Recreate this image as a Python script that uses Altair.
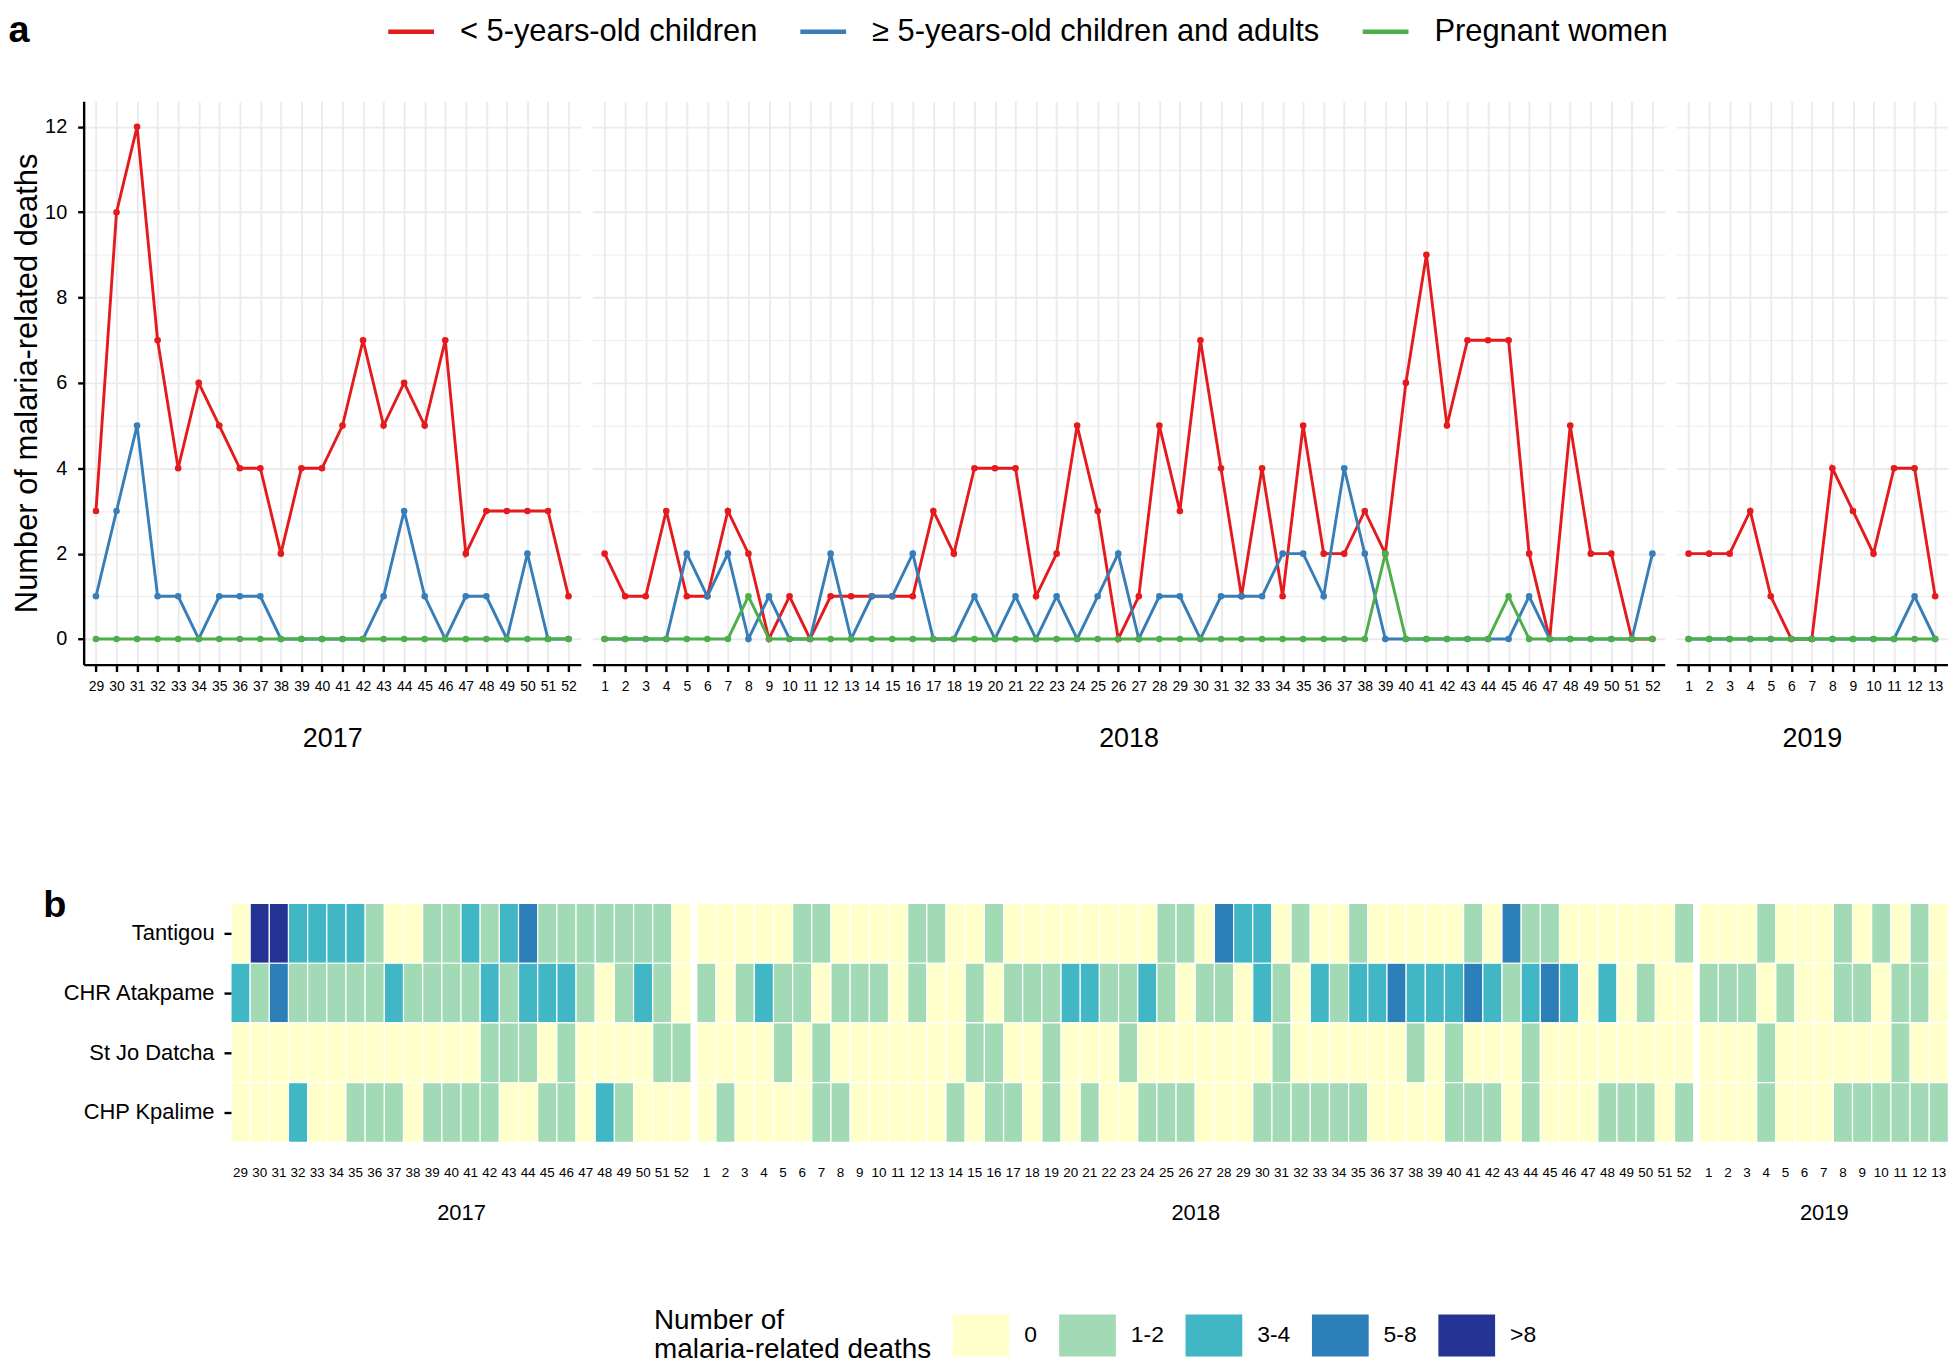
import altair as alt
import pandas as pd

FONT = "Liberation Sans"

# ---------------- data: panel a (weekly deaths by group) ----------------
groups = ["< 5-years-old children", "≥ 5-years-old children and adults", "Pregnant women"]
group_colors = ["#E41A1C", "#377EB8", "#4DAF4A"]

weeks_2017 = [29, 30, 31, 32, 33, 34, 35, 36, 37, 38, 39, 40, 41, 42, 43, 44, 45, 46, 47, 48, 49, 50, 51, 52]
weeks_2018 = [1, 2, 3, 4, 5, 6, 7, 8, 9, 10, 11, 12, 13, 14, 15, 16, 17, 18, 19, 20, 21, 22, 23, 24, 25, 26,
              27, 28, 29, 30, 31, 32, 33, 34, 35, 36, 37, 38, 39, 40, 41, 42, 43, 44, 45, 46, 47, 48, 49, 50, 51, 52]
weeks_2019 = [1, 2, 3, 4, 5, 6, 7, 8, 9, 10, 11, 12, 13]

under5_2017 = [3, 10, 12, 7, 4, 6, 5, 4, 4, 2, 4, 4, 5, 7, 5, 6, 5, 7, 2, 3, 3, 3, 3, 1]
over5_2017 = [1, 3, 5, 1, 1, 0, 1, 1, 1, 0, 0, 0, 0, 0, 1, 3, 1, 0, 1, 1, 0, 2, 0, 0]
pregnant_2017 = [0, 0, 0, 0, 0, 0, 0, 0, 0, 0, 0, 0, 0, 0, 0, 0, 0, 0, 0, 0, 0, 0, 0, 0]

under5_2018 = [2, 1, 1, 3, 1, 1, 3, 2, 0, 1, 0, 1, 1, 1, 1, 1, 3, 2, 4, 4, 4, 1, 2, 5, 3, 0,
               1, 5, 3, 7, 4, 1, 4, 1, 5, 2, 2, 3, 2, 6, 9, 5, 7, 7, 7, 2, 0, 5, 2, 2, 0, 0]
over5_2018 = [0, 0, 0, 0, 2, 1, 2, 0, 1, 0, 0, 2, 0, 1, 1, 2, 0, 0, 1, 0, 1, 0, 1, 0, 1, 2,
              0, 1, 1, 0, 1, 1, 1, 2, 2, 1, 4, 2, 0, 0, 0, 0, 0, 0, 0, 1, 0, 0, 0, 0, 0, 2]
pregnant_2018 = [0, 0, 0, 0, 0, 0, 0, 1, 0, 0, 0, 0, 0, 0, 0, 0, 0, 0, 0, 0, 0, 0, 0, 0, 0, 0,
                 0, 0, 0, 0, 0, 0, 0, 0, 0, 0, 0, 0, 2, 0, 0, 0, 0, 0, 1, 0, 0, 0, 0, 0, 0, 0]

under5_2019 = [2, 2, 2, 3, 1, 0, 0, 4, 3, 2, 4, 4, 1]
over5_2019 = [0, 0, 0, 0, 0, 0, 0, 0, 0, 0, 0, 1, 0]
pregnant_2019 = [0, 0, 0, 0, 0, 0, 0, 0, 0, 0, 0, 0, 0]

# ---------------- data: panel b (heatmap classes by facility) ----------------
facilities = ["Tantigou", "CHR Atakpame", "St Jo Datcha", "CHP Kpalime"]
levels = ["0", "1-2", "3-4", "5-8", ">8"]
level_colors = ["#FFFFCC", "#A1DAB4", "#41B6C4", "#2C7FB8", "#253494"]

# class index into `levels`
tantigou_2017 = [0, 4, 4, 2, 2, 2, 2, 1, 0, 0, 1, 1, 2, 1, 2, 3, 1, 1, 1, 1, 1, 1, 1, 0]
atakpame_2017 = [2, 1, 3, 1, 1, 1, 1, 1, 2, 1, 1, 1, 1, 2, 1, 2, 2, 2, 1, 0, 1, 2, 1, 0]
datcha_2017 = [0, 0, 0, 0, 0, 0, 0, 0, 0, 0, 0, 0, 0, 1, 1, 1, 0, 1, 0, 0, 0, 0, 1, 1]
kpalime_2017 = [0, 0, 0, 2, 0, 0, 1, 1, 1, 0, 1, 1, 1, 1, 0, 0, 1, 1, 0, 2, 1, 0, 0, 0]

tantigou_2018 = [0, 0, 0, 0, 0, 1, 1, 0, 0, 0, 0, 1, 1, 0, 0, 1, 0, 0, 0, 0, 0, 0, 0, 0, 1, 1,
                 0, 3, 2, 2, 0, 1, 0, 0, 1, 0, 0, 0, 0, 0, 1, 0, 3, 1, 1, 0, 0, 0, 0, 0, 0, 1]
atakpame_2018 = [1, 0, 1, 2, 1, 1, 0, 1, 1, 1, 0, 1, 0, 0, 1, 0, 1, 1, 1, 2, 2, 1, 1, 2, 1, 0,
                 1, 1, 0, 2, 1, 0, 2, 1, 2, 2, 3, 2, 2, 2, 3, 2, 1, 2, 3, 2, 0, 2, 0, 1, 0, 0]
datcha_2018 = [0, 0, 0, 0, 1, 0, 1, 0, 0, 0, 0, 0, 0, 0, 1, 1, 0, 0, 1, 0, 0, 0, 1, 0, 0, 0,
               0, 0, 0, 0, 1, 0, 0, 0, 0, 0, 0, 1, 0, 1, 0, 0, 0, 1, 0, 0, 0, 0, 0, 0, 0, 0]
kpalime_2018 = [0, 1, 0, 0, 0, 0, 1, 1, 0, 0, 0, 0, 0, 1, 0, 1, 1, 0, 1, 0, 1, 0, 0, 1, 1, 1,
                0, 0, 0, 1, 1, 1, 1, 1, 1, 0, 0, 0, 0, 1, 1, 1, 0, 1, 0, 0, 0, 1, 1, 1, 0, 1]

tantigou_2019 = [0, 0, 0, 1, 0, 0, 0, 1, 0, 1, 0, 1, 0]
atakpame_2019 = [1, 1, 1, 0, 1, 0, 0, 1, 1, 0, 1, 1, 0]
datcha_2019 = [0, 0, 0, 1, 0, 0, 0, 0, 0, 0, 1, 0, 0]
kpalime_2019 = [0, 0, 0, 1, 0, 0, 0, 1, 1, 1, 1, 1, 1]

years = ["2017", "2018", "2019"]


def line_df(weeks, series):
    rows = []
    for g, vals in zip(groups, series):
        for w, v in zip(weeks, vals):
            rows.append({"week": w, "group": g, "deaths": v})
    return pd.DataFrame(rows)


def heat_df(weeks, series):
    rows = []
    for f, vals in zip(facilities, series):
        for w, v in zip(weeks, vals):
            rows.append({"week": w, "facility": f, "level": levels[v]})
    return pd.DataFrame(rows)


line_data = [
    (weeks_2017, line_df(weeks_2017, [under5_2017, over5_2017, pregnant_2017])),
    (weeks_2018, line_df(weeks_2018, [under5_2018, over5_2018, pregnant_2018])),
    (weeks_2019, line_df(weeks_2019, [under5_2019, over5_2019, pregnant_2019])),
]
heat_data = [
    (weeks_2017, heat_df(weeks_2017, [tantigou_2017, atakpame_2017, datcha_2017, kpalime_2017])),
    (weeks_2018, heat_df(weeks_2018, [tantigou_2018, atakpame_2018, datcha_2018, kpalime_2018])),
    (weeks_2019, heat_df(weeks_2019, [tantigou_2019, atakpame_2019, datcha_2019, kpalime_2019])),
]

LINE_STEP = 20.64
HEAT_STEP = 19.26
LINE_H = 566
HEAT_H = 240
HEAT_SPACING = 5
HEAT_INDENT = 147.5        # heatmap plot starts this far right of the line plot
GRID = "#EBEBEB"

even = "datum.value % 2 === 0"
grid_w = {"condition": {"test": even, "value": 1.9}, "value": 0.95}

line_legend = alt.Legend(
    orient="none", legendX=-75.5, legendY=-85.5, direction="horizontal",
    title="a", titleOrient="left", titleFontSize=38, titleFontWeight="bold",
    titlePadding=367, titleColor="black", titleFont=FONT,
    symbolType="M-2,0H2", symbolSize=23 * 23, symbolStrokeWidth=4.5,
    labelFontSize=31, labelOffset=33.5, columnPadding=33, padding=0,
    labelLimit=2000, labelColor="black", labelFont=FONT,
)

heat_legend = alt.Legend(
    orient="none", legendX=573, legendY=413, direction="horizontal",
    title=["Number of", "malaria-related deaths"], titleOrient="left",
    titleFontSize=28, titleFontWeight="normal", titleLineHeight=30, titlePadding=28.5,
    titleLimit=2000, titleColor="black", titleFont=FONT,
    symbolType="M-1.357,-1H1.357V1H-1.357Z", symbolSize=42 * 42, symbolStrokeWidth=0,
    symbolOpacity=1,
    labelFontSize=23, labelOffset=22.5, columnPadding=21, padding=0,
    labelColor="black", labelFont=FONT,
)


def line_panel(weeks, df, year, first):
    width = LINE_STEP * (len(weeks) - 1 + 1.2)
    xaxis = alt.Axis(
        title=year, labelAngle=0, labelFontSize=14, labelPadding=8,
        tickSize=7, tickWidth=2.4, tickColor="black",
        domainColor="black", domainWidth=2.4,
        grid=True, gridColor=GRID, gridWidth=1.9,
        titleFontSize=27, titlePadding=32, titleFontWeight="normal",
    )
    if first:
        yaxis = alt.Axis(
            title="Number of malaria-related deaths", values=list(range(13)),
            labelExpr=f"{even} ? datum.label : ''",
            tickOpacity={"condition": {"test": even, "value": 1}, "value": 0},
            gridWidth=grid_w, gridColor=GRID, grid=True,
            domainColor="black", domainWidth=2.4, tickColor="black", tickWidth=2.4, tickSize=6,
            labelFontSize=20, labelPadding=11,
            titleFontSize=31, titleFontWeight="normal", titlePadding=8,
            titleBaseline="alphabetic", minExtent=39, maxExtent=39,
        )
    else:
        yaxis = alt.Axis(
            title=None, values=list(range(13)), labels=False, ticks=False, domain=False,
            grid=True, gridColor=GRID, gridWidth=grid_w,
        )
    x = alt.X("week:O", sort=weeks, scale=alt.Scale(type="point", padding=0.6), axis=xaxis)
    y = alt.Y("deaths:Q", scale=alt.Scale(domain=[-0.6, 12.6], nice=False, zero=False), axis=yaxis)
    cscale = alt.Scale(domain=groups, range=group_colors)
    base = alt.Chart(df)
    lines = base.mark_line(strokeWidth=2.9).encode(
        x=x, y=y, color=alt.Color("group:N", scale=cscale, sort=groups, legend=line_legend),
        detail="group:N",
    )
    pts = base.mark_point(filled=True, size=44, opacity=1).encode(
        x=x, y=y, color=alt.Color("group:N", scale=cscale, sort=groups),
    )
    return alt.layer(lines, pts).properties(width=width, height=LINE_H)


def heat_panel(weeks, df, year, first):
    width = HEAT_STEP * len(weeks)
    xaxis = alt.Axis(
        title=year, labelAngle=0, ticks=False, domain=False, grid=False,
        labelFontSize=13.5, labelPadding=23, titleFontSize=22, titlePadding=24,
        titleFontWeight="normal",
    )
    if first:
        yaxis = alt.Axis(
            title="b", titleAngle=0, titleX=-189, titleY=13.5,
            titleAlign="left", titleBaseline="alphabetic", titleFontSize=38,
            titleFontWeight="bold",
            labelFontSize=22, labelPadding=10, tickSize=7, tickWidth=2.4, tickColor="black",
            domain=False, grid=False, labelLimit=1000,
        )
    else:
        yaxis = None
    return alt.Chart(df).mark_rect(stroke="white", strokeWidth=1.2).encode(
        x=alt.X("week:O", sort=weeks, scale=alt.Scale(paddingInner=0, paddingOuter=0), axis=xaxis),
        y=alt.Y("facility:N", sort=facilities, scale=alt.Scale(paddingInner=0, paddingOuter=0), axis=yaxis),
        color=alt.Color("level:N", scale=alt.Scale(domain=levels, range=level_colors), legend=heat_legend),
    ).properties(width=width, height=HEAT_H)


# empty, invisible cell that indents the heatmap row relative to the line row
spacer = alt.Chart(pd.DataFrame({"v": [0]})).mark_point(opacity=0).encode(
    x=alt.value(0), y=alt.value(0)
).properties(width=HEAT_INDENT - HEAT_SPACING, height=HEAT_H)

top = alt.hconcat(
    *[line_panel(w, d, yr, i == 0) for i, ((w, d), yr) in enumerate(zip(line_data, years))],
    spacing=11, bounds="flush",
).resolve_scale(x="independent")

bottom = alt.hconcat(
    spacer,
    *[heat_panel(w, d, yr, i == 0) for i, ((w, d), yr) in enumerate(zip(heat_data, years))],
    spacing=HEAT_SPACING, bounds="flush",
).resolve_scale(x="independent")

chart = alt.concat(top, bottom, columns=1, spacing=136).resolve_scale(
    color="independent", x="independent", y="independent"
).properties(
    padding={"left": 0, "top": 4.5, "right": 0, "bottom": 0}
).configure(
    font=FONT, background="white"
).configure_view(
    stroke=None
).configure_axis(
    labelFont=FONT, titleFont=FONT, labelColor="black", titleColor="black"
).configure_legend(
    labelFont=FONT, titleFont=FONT
)

chart.save("out.html", embed_options={"renderer": "svg", "actions": False})
